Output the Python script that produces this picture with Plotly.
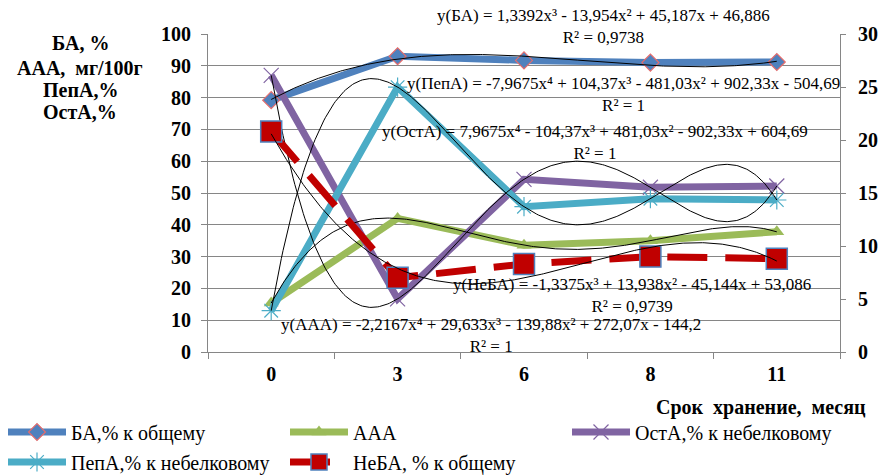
import numpy as np
import plotly.graph_objects as go

# ---- data ----
months = ["0", "3", "6", "8", "11"]
ba = [79.2, 93.0, 91.7, 91.0, 91.2]        # БА, % к общему (left axis)
aaa = [15.4, 42.0, 33.6, 35.0, 37.8]       # ААА (left axis)
osta = [87.0, 16.7, 54.3, 51.8, 52.2]      # ОстА, % к небелковому (left axis)
pepa = [13.0, 83.3, 45.7, 48.2, 47.8]      # ПепА, % к небелковому (left axis)
neba = [20.8, 7.0, 8.3, 9.0, 8.8]          # НеБА, % к общему (right axis)

series_names = ["БА,% к общему", "ААА", "ОстА,% к небелковому",
                "ПепА,% к небелковому", "НеБА, % к общему"]
trend_degrees = [3, 4, 4, 4, 3]
eq_texts = [
    "y(БА) = 1,3392x³ - 13,954x² + 45,187x + 46,886",
    "y(ААА) = -2,2167x⁴ + 29,633x³ - 139,88x² + 272,07x - 144,2",
    "y(ОстА) = 7,9675x⁴ - 104,37x³ + 481,03x² - 902,33x + 604,69",
    "y(ПепА) = -7,9675x⁴ + 104,37x³ - 481,03x² + 902,33x - 504,69",
    "y(НеБА) = -1,3375x³ + 13,938x² - 45,144x + 53,086",
]
r2_texts = ["R² = 0,9738", "R² = 1", "R² = 1", "R² = 1", "R² = 0,9739"]
y_title_lines = ["БА, %", "ААА,  мг/100г", "ПепА,%", "ОстА,%"]
x_title = "Срок  хранение,  месяц"

FONT = "Liberation Serif"
GRID = "#868686"
W, H = 884, 476
L, R, T, B = 208, 44, 34, 124
PW, PH = W - L - R, H - T - B


def px2paper(px, py):
    return (px - L) / PW, (H - B - py) / PH


xi = np.arange(1, len(months) + 1)
xs = np.linspace(1, len(months), 300)

fig = go.Figure()

styles = [
    dict(color="#4F81BD", marker=dict(symbol="diamond", size=13, color="#4F81BD",
                                      line=dict(color="#E46C6C", width=1.2)),
         dash="solid", yaxis="y", legend="legend", lw=209),
    dict(color="#9BBB59", marker=dict(symbol="triangle-up", size=13, color="#9BBB59",
                                      line=dict(color="#9BBB59", width=0)),
         dash="solid", yaxis="y", legend="legend", lw=209),
    dict(color="#8064A2", marker=dict(symbol="x-thin-open", size=15, color="#8064A2",
                                      line=dict(color="#9D85C0", width=1.2)),
         dash="solid", yaxis="y", legend="legend", lw=200),
    dict(color="#4BACC6", marker=dict(symbol="asterisk-open", size=16, color="#4BACC6",
                                      line=dict(color="#4BACC6", width=1.2)),
         dash="solid", yaxis="y", legend="legend2", lw=209),
    dict(color="#C00000", marker=dict(symbol="square", size=21, color="#C00000",
                                      line=dict(color="#4F81BD", width=1.5)),
         dash="40px,18px", yaxis="y2", legend="legend2", lw=230),
]
all_series = [ba, aaa, osta, pepa, neba]

for name, vals, st in zip(series_names, all_series, styles):
    fig.add_trace(go.Scatter(
        x=xi, y=vals, name=name, mode="lines+markers",
        line=dict(color=st["color"], width=7, dash=st["dash"]),
        marker=st["marker"], yaxis=st["yaxis"], legend=st["legend"],
        legendwidth=st["lw"], hoverinfo="skip"))

# polynomial trendlines (black)
for vals, deg, st in zip(all_series, trend_degrees, styles):
    coef = np.polyfit(xi, vals, deg)
    fig.add_trace(go.Scatter(
        x=xs, y=np.polyval(coef, xs), mode="lines", showlegend=False,
        line=dict(color="black", width=1), yaxis=st["yaxis"], hoverinfo="skip"))

annotations = []
# equation label block centres (pixels)
eq_pos = [(603, 26),   # БА
          (491, 335),  # ААА
          (595, 142),  # ОстА
          (623, 95),   # ПепА
          (632, 295)]  # НеБА
for eq, r2, (ex, ey) in zip(eq_texts, r2_texts, eq_pos):
    x0, y0 = px2paper(ex, ey)
    annotations.append(dict(text=eq + "<br>" + r2, x=x0, y=y0, xref="paper", yref="paper",
                            xanchor="center", yanchor="middle", showarrow=False,
                            align="center",
                            font=dict(family=FONT, size=17, color="black")))

for line, py in zip(y_title_lines, [43, 68, 90, 112]):
    x0, y0 = px2paper(80, py)
    annotations.append(dict(text=line, x=x0, y=y0, xref="paper", yref="paper",
                            xanchor="center", yanchor="middle", showarrow=False,
                            font=dict(family=FONT, size=20, color="black", weight="bold")))

x0, y0 = px2paper(868, 407)
annotations.append(dict(text=x_title, x=x0, y=y0, xref="paper", yref="paper",
                        xanchor="right", yanchor="middle", showarrow=False,
                        font=dict(family=FONT, size=20, color="black", weight="bold")))

tickfont = dict(family=FONT, size=20, color="black", weight="bold")
lx, ly1 = px2paper(3, 432)
_, ly2 = px2paper(3, 462)

fig.update_layout(
    width=W, height=H,
    margin=dict(l=L, r=R, t=T, b=B, autoexpand=False),
    plot_bgcolor="white", paper_bgcolor="white",
    annotations=annotations,
    xaxis=dict(range=[0.5, len(months) + 0.5], tickmode="array", tickvals=xi,
               ticktext=months, ticks="", showgrid=False, zeroline=False,
               showline=True, linecolor=GRID, linewidth=1, tickfont=tickfont,
               ticklabelstandoff=4,
               minor=dict(tickmode="array", tickvals=list(np.arange(0.5, len(months) + 1, 1.0)),
                          ticks="outside", ticklen=6, tickcolor=GRID, showgrid=False)),
    yaxis=dict(range=[0, 100], tick0=0, dtick=10, showgrid=True, gridcolor=GRID,
               gridwidth=1, zeroline=False, showline=True, linecolor=GRID,
               ticks="outside", ticklen=6, tickcolor=GRID, tickfont=tickfont,
               ticklabelstandoff=6),
    yaxis2=dict(range=[0, 30], tick0=0, dtick=5, overlaying="y", side="right",
                showgrid=False, zeroline=False, showline=True, linecolor=GRID,
                ticks="outside", ticklen=5, tickcolor=GRID, tickfont=tickfont,
                ticklabelstandoff=8),
    legend=dict(orientation="h", x=lx, xanchor="left", y=ly1, yanchor="middle",
                font=dict(family=FONT, size=20, color="black"), itemwidth=58,
                bgcolor="rgba(0,0,0,0)", traceorder="normal"),
    legend2=dict(orientation="h", x=lx, xanchor="left", y=ly2, yanchor="middle",
                 font=dict(family=FONT, size=20, color="black"), itemwidth=58,
                 bgcolor="rgba(0,0,0,0)", traceorder="normal"),
    showlegend=True,
)

fig.write_html("out.html",
               config={"displayModeBar": False, "staticPlot": True},
               post_script="document.body.style.margin='0';"
                           "document.body.style.overflow='hidden';")
